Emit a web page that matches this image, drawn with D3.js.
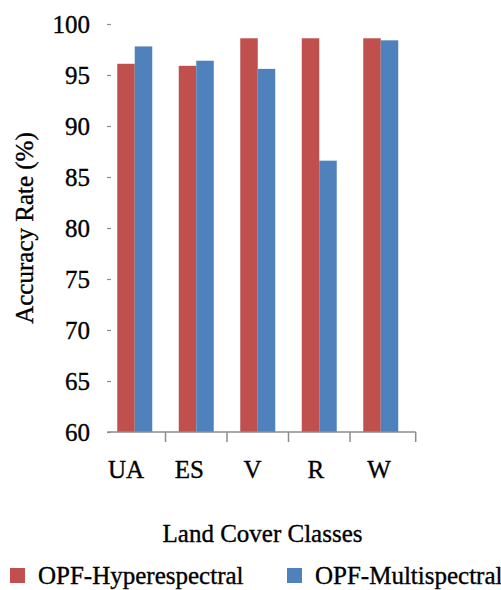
<!DOCTYPE html>
<html>
<head>
<meta charset="utf-8">
<script src="https://cdn.jsdelivr.net/npm/d3@7"></script>
<style>
  html, body { margin: 0; padding: 0; background: #fff; }
  text { font-family: "Liberation Serif", "Times New Roman", serif; fill: #000; stroke: #000; stroke-width: 0.35px; }
</style>
</head>
<body>
<svg id="chart" width="501" height="590"></svg>
<script>
const categories = ["UA", "ES", "V", "R", "W"];
const seriesNames = ["OPF-Hyperespectral", "OPF-Multispectral"];
const hyperValues = [96.1, 95.9, 98.6, 98.6, 98.6];
const multiValues = [97.8, 96.4, 95.6, 86.6, 98.4];
const yTicks = [60, 65, 70, 75, 80, 85, 90, 95, 100];
const colors = ["#C0504D", "#4F81BD"];

const svg = d3.select("#chart");

const x = d3.scaleBand().domain(categories).range([104, 411.5]).paddingInner(0).paddingOuter(0);
const xSeries = d3.scaleBand().domain(seriesNames).range([0, 35]);
const xLabel = d3.scalePoint().domain(categories).range([126, 379]);
const y = d3.scaleLinear().domain([60, 100]).range([432, 24]);

const fontSize = 25;

// y ticks (small grey dashes) and labels
const yAxis = d3.axisLeft(y).tickValues(yTicks).tickSize(0).tickPadding(17);
const gy = svg.append("g").attr("transform", "translate(107,0)").call(yAxis);
gy.select(".domain").remove();
gy.selectAll(".tick text")
  .attr("font-family", "Liberation Serif, Times New Roman, serif")
  .attr("font-size", fontSize)
  .attr("fill", "#000");
gy.selectAll(".tick").append("line")
  .attr("x1", 0).attr("x2", 4)
  .attr("stroke", "#8c8c8c").attr("stroke-width", 1.2);

// bars
const data = categories.map((c, i) => ({ cat: c, vals: [hyperValues[i], multiValues[i]] }));
const groups = svg.append("g").selectAll("g").data(data).join("g")
  .attr("transform", d => `translate(${x(d.cat) + x.bandwidth() / 2 - 17.5},0)`);
groups.selectAll("rect").data(d => d.vals.map((v, j) => ({ v, s: seriesNames[j], j })))
  .join("rect")
  .attr("x", d => xSeries(d.s))
  .attr("width", xSeries.bandwidth())
  .attr("y", d => y(d.v))
  .attr("height", d => y(60) - y(d.v))
  .attr("fill", d => colors[d.j]);

// x axis line and category ticks
const axisG = svg.append("g");
const xStart = 107.3, xEnd = 415.7;
axisG.append("line")
  .attr("x1", xStart).attr("x2", xEnd)
  .attr("y1", y(60)).attr("y2", y(60))
  .attr("stroke", "#8c8c8c").attr("stroke-width", 1.5);
const boundaries = categories.slice(1).map(c => x(c)).concat([xEnd]);
axisG.selectAll("line.tk").data(boundaries).join("line")
  .attr("class", "tk")
  .attr("x1", d => d).attr("x2", d => d)
  .attr("y1", y(60)).attr("y2", y(60) + 10)
  .attr("stroke", "#8c8c8c").attr("stroke-width", 1.5);

// category labels
svg.append("g").selectAll("text").data(categories).join("text")
  .attr("x", d => xLabel(d))
  .attr("y", 478)
  .attr("text-anchor", "middle")
  .attr("font-size", fontSize)
  .text(d => d);

// axis titles
svg.append("text")
  .attr("transform", "translate(33,228) rotate(-90)")
  .attr("text-anchor", "middle")
  .attr("font-size", fontSize)
  .text("Accuracy Rate (%)");

svg.append("text")
  .attr("x", 262.5).attr("y", 542)
  .attr("text-anchor", "middle")
  .attr("font-size", fontSize)
  .text("Land Cover Classes");

// legend
const legendX = [10, 287];
const leg = svg.append("g").selectAll("g").data(seriesNames).join("g")
  .attr("transform", (d, i) => `translate(${legendX[i]},0)`);
leg.append("rect")
  .attr("x", 0).attr("y", 568).attr("width", 15).attr("height", 15)
  .attr("fill", (d, i) => colors[i]);
leg.append("text")
  .attr("x", 28).attr("y", 584)
  .attr("font-size", fontSize)
  .text(d => d);
</script>
</body>
</html>
